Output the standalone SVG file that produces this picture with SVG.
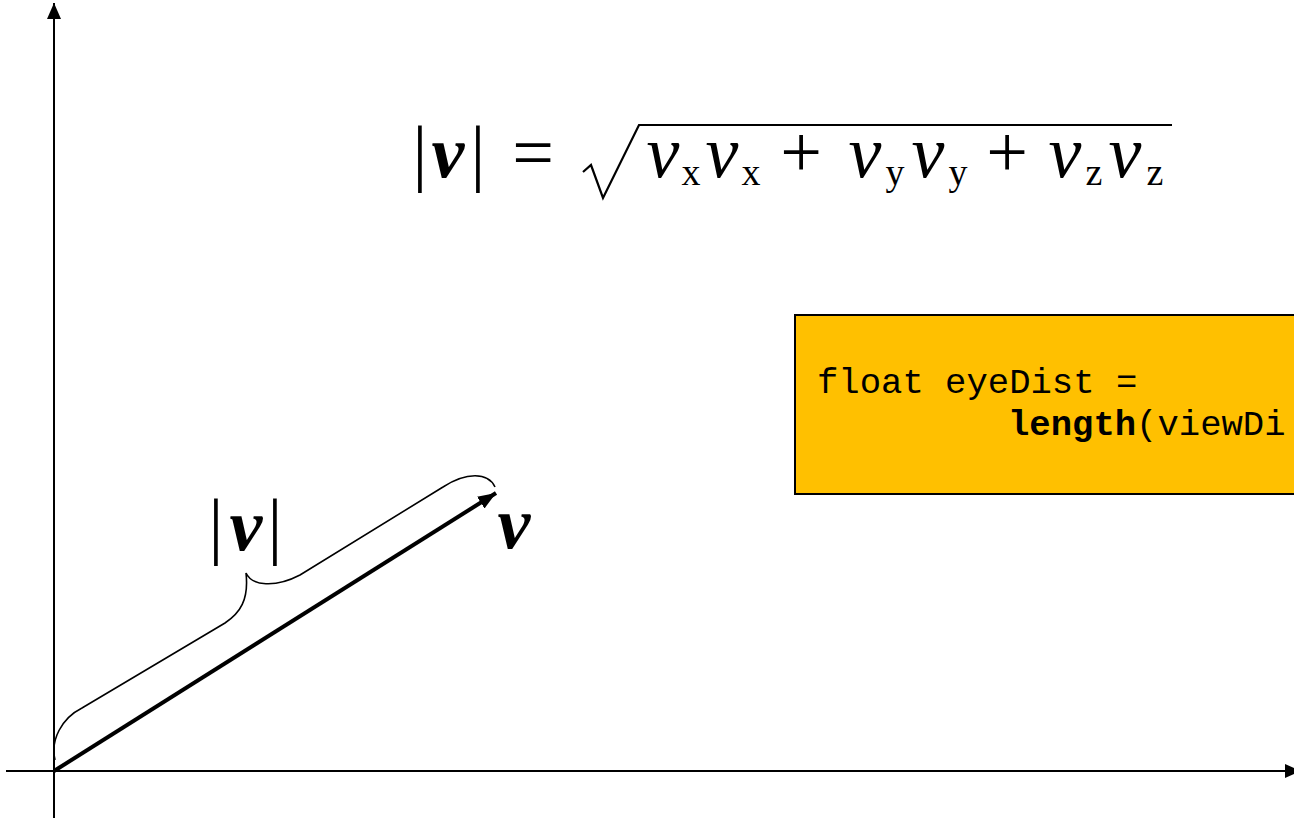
<svg xmlns="http://www.w3.org/2000/svg" width="1294" height="818" viewBox="0 0 1294 818">
<style>
.m{font-family:"Liberation Serif","Times New Roman",serif;fill:#000;text-anchor:middle}
.r{font-size:74px}
.i{font-size:74px;font-style:italic}
.bi{font-size:74px;font-style:italic;font-weight:bold}
.s{font-size:38px}
.code{font-family:"Liberation Mono","Courier New",monospace;font-size:35.6px;fill:#000}
.ax{stroke:#000;stroke-width:2;fill:none}
</style>
<defs>
<marker id="ah" markerUnits="userSpaceOnUse" markerWidth="16" markerHeight="14" refX="16" refY="7" orient="auto">
<path d="M0,0 L16,7 L0,14 Z" fill="#000"/>
</marker>
<marker id="vh" markerUnits="userSpaceOnUse" markerWidth="18" markerHeight="14" refX="18" refY="7" orient="auto">
<path d="M0,0 L18,7 L0,14 Z" fill="#000"/>
</marker>
</defs>
<g id="connectors">
<line id="y-axis" class="ax" x1="54" y1="818" x2="54" y2="3" marker-end="url(#ah)"/>
<line id="x-axis" class="ax" x1="6" y1="771" x2="1301" y2="771" marker-end="url(#ah)"/>
<line id="vector" x1="54" y1="771" x2="496" y2="493" stroke="#000" stroke-width="4" marker-end="url(#vh)"/>
<path id="brace" d="M55,760 C50,740 62,718 82,708 L225,623 C240,613 249,600 246,573 C252,586 275,588 300,575 L443,487 C466,472 488,472 495,487" fill="none" stroke="#000" stroke-width="1.6"/>
</g>
<g id="formula">
<text class="m r" x="420" y="177">|</text>
<text class="m bi" x="448" y="177">v</text>
<text class="m r" x="478" y="177">|</text>
<text class="m r" x="533" y="177">=</text>
<path d="M583,172 L591,165 L603,198 L639,125 L1172,125" fill="none" stroke="#000" stroke-width="2.2" stroke-linejoin="miter"/>
<text class="m i" x="663" y="177">v</text>
<text class="m s" x="691" y="185">x</text>
<text class="m i" x="722" y="177">v</text>
<text class="m s" x="751" y="185">x</text>
<text class="m r" x="801" y="177">+</text>
<text class="m i" x="865" y="177">v</text>
<text class="m s" x="895" y="185">y</text>
<text class="m i" x="928" y="177">v</text>
<text class="m s" x="958" y="185">y</text>
<text class="m r" x="1007" y="177">+</text>
<text class="m i" x="1065" y="177">v</text>
<text class="m s" x="1094" y="185">z</text>
<text class="m i" x="1125" y="177">v</text>
<text class="m s" x="1155" y="185">z</text>
</g>
<g id="label-length">
<text class="m r" x="216" y="550">|</text>
<text class="m bi" x="246" y="550">v</text>
<text class="m r" x="275" y="550">|</text>
</g>
<g id="label-v">
<text class="m bi" x="514" y="548">v</text>
</g>
<g id="code-box">
<rect x="795" y="315" width="510" height="179" fill="#FFC000" stroke="#000" stroke-width="2"/>
<text class="code" x="817" y="393">float eyeDist =</text>
<text class="code" x="1008" y="435"><tspan font-weight="bold">length</tspan>(viewDi</text>
</g>
</svg>
